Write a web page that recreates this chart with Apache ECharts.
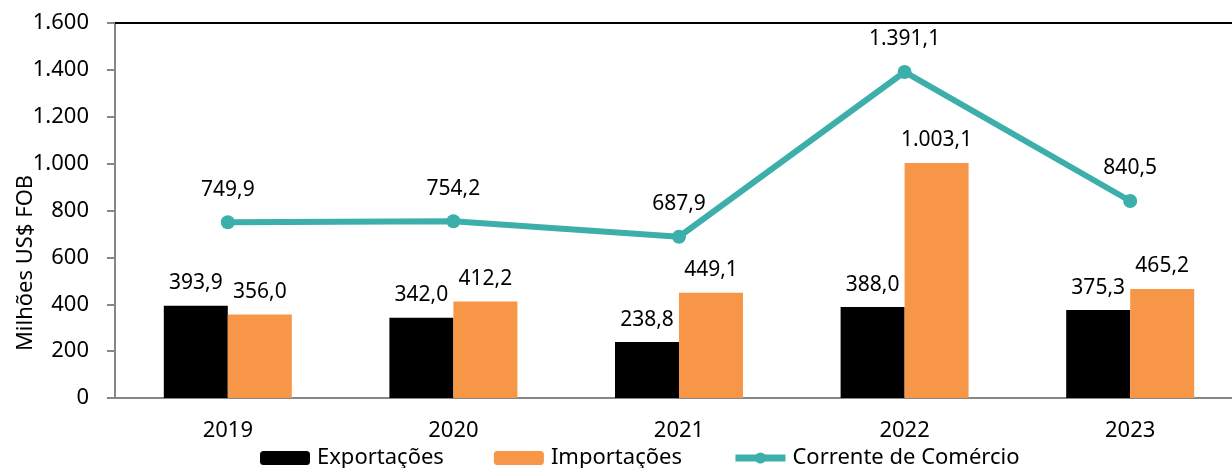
<!DOCTYPE html>
<html>
<head>
<meta charset="utf-8">
<script src="https://cdn.jsdelivr.net/npm/echarts@6/dist/echarts.min.js"></script>
<style>
html,body{margin:0;padding:0;background:#fff;}
#main{width:1232px;height:468px;}
</style>
</head>
<body>
<div id="main"></div>
<script>
var anos = ['2019', '2020', '2021', '2022', '2023'];
var exportacoes = [393.9, 342.0, 238.8, 388.0, 375.3];
var importacoes = [356.0, 412.2, 449.1, 1003.1, 465.2];
var corrente = [749.9, 754.2, 687.9, 1391.1, 840.5];
var yTicks = [0, 200, 400, 600, 800, 1000, 1200, 1400, 1600];

var fonte = '"Noto Sans", "Open Sans", sans-serif';
var verde = '#3DAFAA';

// formato pt-BR: 1.391,1
function milhar(s) {
	return s.replace(/\B(?=(\d{3})+(?!\d))/g, '.');
}
function fmt1(v) {
	var p = v.toFixed(1).split('.');
	return milhar(p[0]) + ',' + p[1];
}

var chart = echarts.init(document.querySelector('#main'));

var option = {
	animation: false,
	textStyle: { fontFamily: fonte, color: '#000' },
	grid: { left: 115, right: -11, top: 23, bottom: 70, outerBoundsMode: 'none', containLabel: false },
	legend: {
		bottom: -6,
		left: 255,
		itemWidth: 50,
		itemHeight: 14,
		itemGap: 50,
		textStyle: { fontSize: 22, color: '#000', fontFamily: fonte, padding: [0, 0, 0, 2] },
		data: [
			'Exportações',
			'Importações',
			{ name: 'Corrente de Comércio', itemStyle: { color: verde }, lineStyle: { color: verde, width: 7 } }
		]
	},
	xAxis: [
		{
			type: 'category',
			data: anos,
			axisLine: { lineStyle: { color: '#868686', width: 2 } },
			axisTick: { show: false },
			axisLabel: { fontSize: 22, color: '#000', margin: 22 }
		},
		{
			type: 'category',
			position: 'top',
			data: anos,
			axisLine: { lineStyle: { color: '#000', width: 2 } },
			axisTick: { show: false },
			axisLabel: { show: false }
		}
	],
	yAxis: {
		type: 'value',
		min: yTicks[0],
		max: yTicks[yTicks.length - 1],
		interval: 200,
		name: 'Milhões US$ FOB',
		nameLocation: 'middle',
		nameGap: 78,
		nameMoveOverlap: false,
		nameTextStyle: { fontSize: 22, color: '#000', padding: [0, 105, 0, 0] },
		axisLine: { show: true, lineStyle: { color: '#868686', width: 2 } },
		axisTick: { show: true, length: 8, lineStyle: { color: '#868686', width: 2 } },
		splitLine: { show: false },
		axisLabel: {
			fontSize: 22,
			color: '#000',
			margin: 26,
			formatter: function (v) { return milhar(String(v)); }
		}
	},
	series: [
		{
			name: 'Exportações',
			type: 'bar',
			barWidth: 64,
			barGap: '0%',
			itemStyle: { color: '#000000' },
			label: {
				show: true, position: 'top', distance: 12, fontSize: 21, color: '#000',
				formatter: function (p) { return fmt1(p.value); }
			},
			data: exportacoes
		},
		{
			name: 'Importações',
			type: 'bar',
			barWidth: 64,
			itemStyle: { color: '#F79646' },
			label: {
				show: true, position: 'top', distance: 12, fontSize: 21, color: '#000',
				formatter: function (p) { return fmt1(p.value); }
			},
			data: importacoes
		},
		{
			name: 'Corrente de Comércio',
			type: 'line',
			symbol: 'circle',
			symbolSize: 14,
			lineStyle: { color: verde, width: 6 },
			itemStyle: { color: verde },
			label: {
				show: true, position: 'top', distance: 15, fontSize: 21, color: '#000',
				formatter: function (p) { return fmt1(p.value); }
			},
			data: corrente
		}
	]
};

chart.setOption(option);
</script>
</body>
</html>
